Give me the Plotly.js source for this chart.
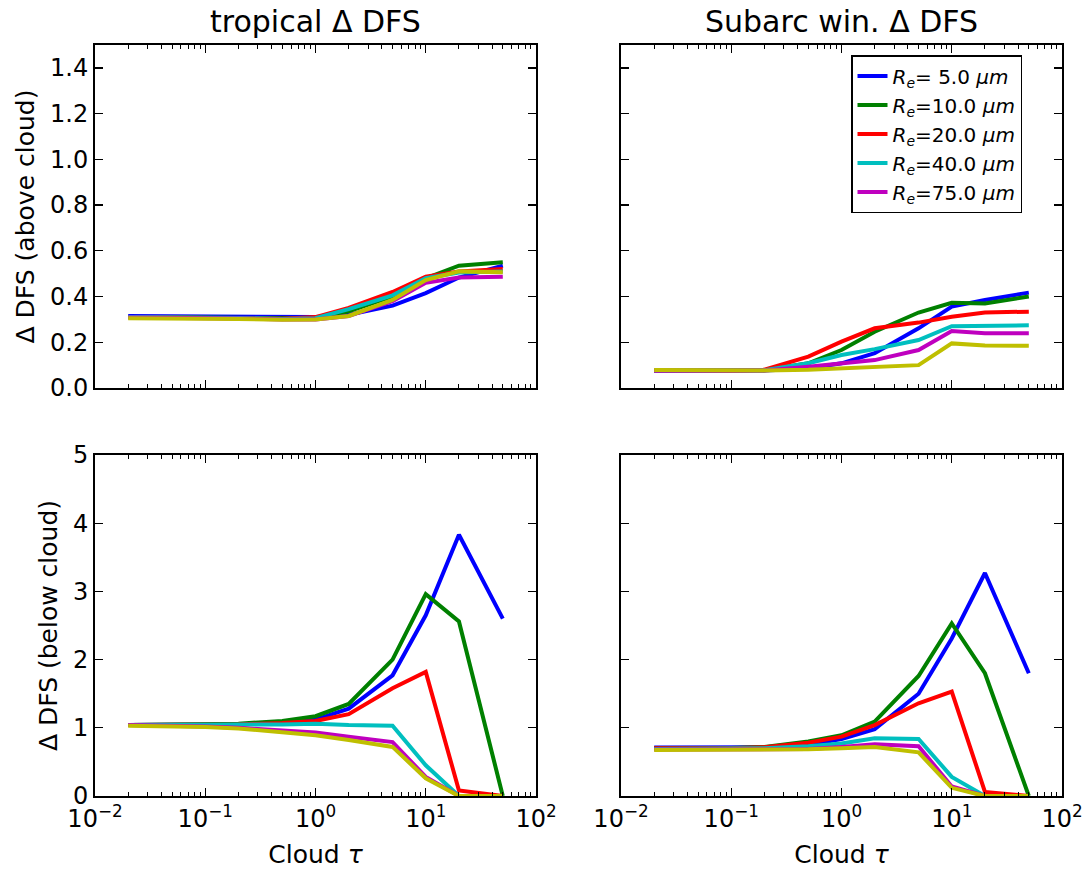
<!DOCTYPE html>
<html>
<head>
<meta charset="utf-8">
<script src="https://cdn.plot.ly/plotly-3.0.1.min.js"></script>
<style>html,body{margin:0;padding:0;background:#fff;}#chart{width:1086px;height:874px;}</style>
</head>
<body>
<div id="chart"></div>
<script>
// ---- data ----
const tau = [0.02, 0.05, 0.1, 0.2, 0.5, 1, 2, 5, 10, 20, 50];
const seriesLabels = ["<i>R</i><sub><i>e</i></sub>= 5.0 <i>μm</i>", "<i>R</i><sub><i>e</i></sub>=10.0 <i>μm</i>",
  "<i>R</i><sub><i>e</i></sub>=20.0 <i>μm</i>", "<i>R</i><sub><i>e</i></sub>=40.0 <i>μm</i>",
  "<i>R</i><sub><i>e</i></sub>=75.0 <i>μm</i>", ""];
const seriesColors = ["#0000ff", "#008000", "#ff0000", "#00bfbf", "#bf00bf", "#bfbf00"];
const panelTitles = ["tropical Δ DFS", "Subarc win. Δ DFS"];
const xTickVals = [0.01, 0.1, 1, 10, 100];
const xTickText = ["10<sup>−2</sup>", "10<sup>−1</sup>", "10<sup>0</sup>", "10<sup>1</sup>", "10<sup>2</sup>"];

// tropical, above cloud (one row per series)
const tropAbove = [
  [0.315, 0.314, 0.313, 0.311, 0.308, 0.310, 0.320, 0.360, 0.415, 0.483, 0.535],
  [0.310, 0.309, 0.308, 0.306, 0.303, 0.305, 0.335, 0.400, 0.480, 0.535, 0.550],
  [0.310, 0.309, 0.308, 0.306, 0.303, 0.310, 0.350, 0.420, 0.487, 0.510, 0.520],
  [0.310, 0.309, 0.308, 0.306, 0.302, 0.305, 0.345, 0.405, 0.480, 0.505, 0.510],
  [0.308, 0.307, 0.306, 0.304, 0.300, 0.300, 0.315, 0.380, 0.460, 0.483, 0.487],
  [0.305, 0.305, 0.304, 0.302, 0.298, 0.300, 0.315, 0.385, 0.472, 0.510, 0.506]
];
// subarctic winter, above cloud
const subAbove = [
  [0.075, 0.075, 0.074, 0.076, 0.085, 0.108, 0.152, 0.261, 0.356, 0.385, 0.417],
  [0.075, 0.075, 0.075, 0.078, 0.108, 0.166, 0.246, 0.330, 0.373, 0.370, 0.400],
  [0.075, 0.075, 0.075, 0.080, 0.137, 0.203, 0.261, 0.286, 0.312, 0.330, 0.334],
  [0.075, 0.075, 0.075, 0.078, 0.108, 0.144, 0.170, 0.210, 0.270, 0.270, 0.274],
  [0.075, 0.075, 0.075, 0.077, 0.093, 0.108, 0.122, 0.166, 0.249, 0.239, 0.239],
  [0.079, 0.078, 0.077, 0.077, 0.080, 0.086, 0.093, 0.100, 0.195, 0.186, 0.185]
];
// tropical, below cloud
const tropBelow = [
  [1.04, 1.04, 1.045, 1.05, 1.08, 1.12, 1.28, 1.77, 2.65, 3.83, 2.60],
  [1.04, 1.045, 1.05, 1.06, 1.10, 1.17, 1.35, 2.00, 2.96, 2.56, 0.00],
  [1.04, 1.04, 1.045, 1.05, 1.07, 1.10, 1.20, 1.58, 1.82, 0.08, 0.00],
  [1.04, 1.04, 1.045, 1.045, 1.05, 1.06, 1.04, 1.03, 0.45, 0.00, 0.00],
  [1.04, 1.035, 1.02, 1.00, 0.96, 0.93, 0.87, 0.79, 0.28, 0.00, 0.00],
  [1.03, 1.025, 1.01, 0.99, 0.93, 0.89, 0.82, 0.72, 0.26, 0.00, 0.00]
];
// subarctic winter, below cloud
const subBelow = [
  [0.71, 0.71, 0.71, 0.715, 0.75, 0.835, 0.98, 1.50, 2.31, 3.27, 1.80],
  [0.70, 0.70, 0.705, 0.72, 0.80, 0.89, 1.09, 1.76, 2.53, 1.80, 0.00],
  [0.70, 0.70, 0.70, 0.715, 0.78, 0.87, 1.04, 1.36, 1.53, 0.06, 0.00],
  [0.69, 0.69, 0.69, 0.70, 0.73, 0.77, 0.846, 0.836, 0.28, 0.00, 0.00],
  [0.68, 0.68, 0.68, 0.685, 0.69, 0.72, 0.76, 0.73, 0.14, 0.00, 0.00],
  [0.675, 0.675, 0.675, 0.68, 0.685, 0.70, 0.72, 0.64, 0.12, 0.00, 0.00]
];

// ---- build ----
const FONT = "DejaVu Sans";
const TICK = 24, AXT = 25, TTL = 30, LEG = 20;
const minorVals = [];
for (let k = -2; k < 2; k++) for (let m = 2; m <= 9; m++) minorVals.push(m * Math.pow(10, k));

const panels = [
  {data: tropAbove, xa: "x", ya: "y", legend: false},
  {data: subAbove, xa: "x2", ya: "y2", legend: true},
  {data: tropBelow, xa: "x3", ya: "y3", legend: false},
  {data: subBelow, xa: "x4", ya: "y4", legend: false}
];
const traces = [];
panels.forEach(p => {
  p.data.forEach((vals, i) => {
    traces.push({
      type: "scatter", mode: "lines", x: tau, y: vals,
      xaxis: p.xa, yaxis: p.ya,
      name: seriesLabels[i],
      showlegend: p.legend && seriesLabels[i] !== "",
      line: {color: seriesColors[i], width: 4},
      hoverinfo: "skip"
    });
  });
});

function xAxis(domain, labels, anchor) {
  return {
    type: "log", range: [-2, 2], domain: domain, anchor: anchor,
    tickmode: "array", tickvals: xTickVals, ticktext: xTickText, showticklabels: labels,
    ticks: "inside", ticklen: 8, tickwidth: 1.3, tickcolor: "#000",
    minor: {tickmode: "array", tickvals: minorVals, ticks: "inside", ticklen: 4, tickwidth: 1, tickcolor: "#000", showgrid: false},
    showline: true, linecolor: "#000", linewidth: 2, mirror: "ticks",
    showgrid: false, zeroline: false,
    tickfont: {family: FONT, size: TICK, color: "#000"},
    title: labels ? {text: "Cloud <i>τ</i>", font: {family: FONT, size: AXT, color: "#000"}, standoff: 14} : undefined
  };
}
function yAxis(domain, range, dtick, fmt, labels, anchor, title) {
  return {
    range: range, domain: domain, anchor: anchor, dtick: dtick, tick0: 0, tickformat: fmt,
    showticklabels: labels,
    ticks: "inside", ticklen: 8, tickwidth: 1.3, tickcolor: "#000",
    showline: true, linecolor: "#000", linewidth: 2, mirror: "ticks",
    showgrid: false, zeroline: false,
    tickfont: {family: FONT, size: TICK, color: "#000"},
    title: title ? {text: title, font: {family: FONT, size: AXT, color: "#000"}, standoff: 8} : undefined
  };
}

const xL = [95 / 1086, 536 / 1086], xR = [621 / 1086, 1062 / 1086];
const yT = [1 - 388 / 874, 1 - 45 / 874], yB = [1 - 796 / 874, 1 - 455 / 874];

const layout = {
  width: 1086, height: 874,
  margin: {l: 0, r: 0, t: 0, b: 0},
  paper_bgcolor: "#fff", plot_bgcolor: "#fff",
  font: {family: FONT, color: "#000"},
  xaxis: xAxis(xL, false, "y"),
  xaxis2: xAxis(xR, false, "y2"),
  xaxis3: xAxis(xL, true, "y3"),
  xaxis4: xAxis(xR, true, "y4"),
  yaxis: yAxis(yT, [0, 1.5], 0.2, ".1f", true, "x", "Δ DFS (above cloud)"),
  yaxis2: yAxis(yT, [0, 1.5], 0.2, ".1f", false, "x2", null),
  yaxis3: yAxis(yB, [0, 5], 1, "d", true, "x3", "Δ DFS (below cloud)"),
  yaxis4: yAxis(yB, [0, 5], 1, "d", false, "x4", null),
  annotations: [
    {text: panelTitles[0], xref: "paper", yref: "paper", x: (xL[0] + xL[1]) / 2, y: yT[1], yshift: 4,
     xanchor: "center", yanchor: "bottom", showarrow: false, font: {family: FONT, size: TTL, color: "#000"}},
    {text: panelTitles[1], xref: "paper", yref: "paper", x: (xR[0] + xR[1]) / 2, y: yT[1], yshift: 4,
     xanchor: "center", yanchor: "bottom", showarrow: false, font: {family: FONT, size: TTL, color: "#000"}}
  ],
  showlegend: true,
  legend: {
    x: 851 / 1086, y: 1 - 55 / 874, xanchor: "left", yanchor: "top",
    bgcolor: "#fff", bordercolor: "#000", borderwidth: 1.5,
    font: {family: FONT, size: LEG, color: "#000"},
    tracegroupgap: 0
  }
};

Plotly.newPlot("chart", traces, layout, {staticPlot: true, displayModeBar: false});
</script>
</body>
</html>
